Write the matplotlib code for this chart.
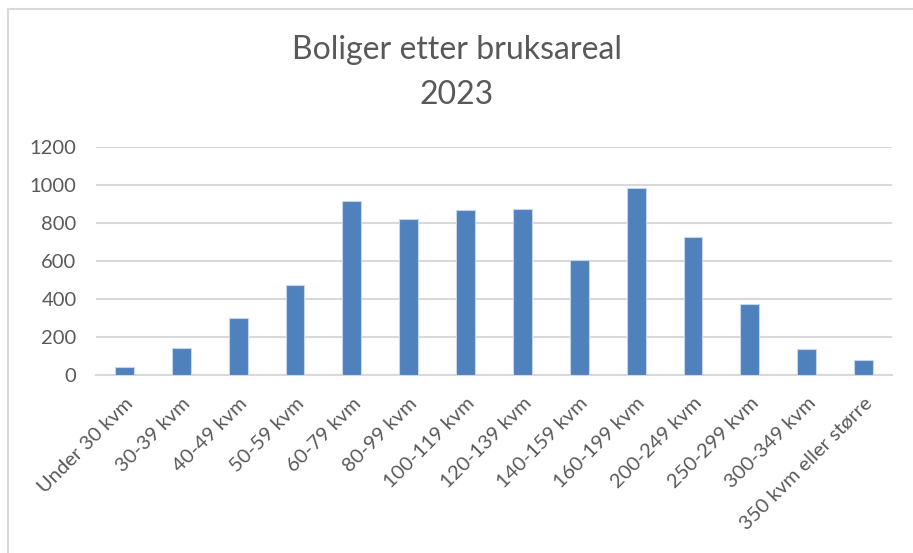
import matplotlib
matplotlib.use("Agg")
import matplotlib.pyplot as plt
from matplotlib.lines import Line2D

categories = ["Under 30 kvm", "30-39 kvm", "40-49 kvm", "50-59 kvm", "60-79 kvm",
              "80-99 kvm", "100-119 kvm", "120-139 kvm", "140-159 kvm", "160-199 kvm",
              "200-249 kvm", "250-299 kvm", "300-349 kvm", "350 kvm eller større"]
values = [43, 140, 301, 473, 912, 821, 866, 872, 603, 982, 724, 372, 135, 77]
yticks = [0, 200, 400, 600, 800, 1000, 1200]

plt.rcParams['font.family'] = ['Lato', 'DejaVu Sans']
W, H = 913, 553
fig = plt.figure(figsize=(W / 100, H / 100), dpi=100)
fig.patch.set_facecolor('white')

left, right = 96 / W, 892 / W
bottom, top = 1 - 375 / H, 1 - 146.7 / H
ax = fig.add_axes([left, bottom, right - left, top - bottom])

x = list(range(len(categories)))
ax.bar(x, values, width=0.33, color='#4f81bd', edgecolor='#c6d5ea', linewidth=0.8, zorder=3)
ax.set_xlim(-0.5, len(categories) - 0.5)
ax.set_ylim(0, 1200)
ax.set_yticks(yticks)
ax.set_yticklabels([str(v) for v in yticks])
ax.yaxis.grid(True, color='#d9d9d9', linewidth=1.5, zorder=0)
ax.set_axisbelow(True)
for s in ['top', 'right', 'left']:
    ax.spines[s].set_visible(False)
ax.spines['bottom'].set_color('#d9d9d9')
ax.spines['bottom'].set_linewidth(1.5)
ax.tick_params(axis='y', length=0, pad=14, labelsize=14.5, labelcolor='#595959')
ax.tick_params(axis='x', length=0, pad=14, labelsize=14.5, labelcolor='#595959')
ax.set_xticks(x)
ax.set_xticklabels(categories, rotation=45, ha='right', va='top', rotation_mode='anchor')

fig.text(0.5, 1 - 50 / H, "Boliger etter bruksareal", ha='center', va='center',
         fontsize=23, color='#595959')
fig.text(0.5, 1 - 95 / H, "2023", ha='center', va='center',
         fontsize=23, color='#595959')

# chart frame (top and left edges visible)
fig.add_artist(Line2D([8 / W, 1], [1 - 9 / H, 1 - 9 / H], transform=fig.transFigure,
                      color='#d9d9d9', linewidth=1.5))
fig.add_artist(Line2D([8 / W, 8 / W], [0, 1 - 9 / H], transform=fig.transFigure,
                      color='#d9d9d9', linewidth=1.5))

fig.savefig("out.png", dpi=100, facecolor='white')
